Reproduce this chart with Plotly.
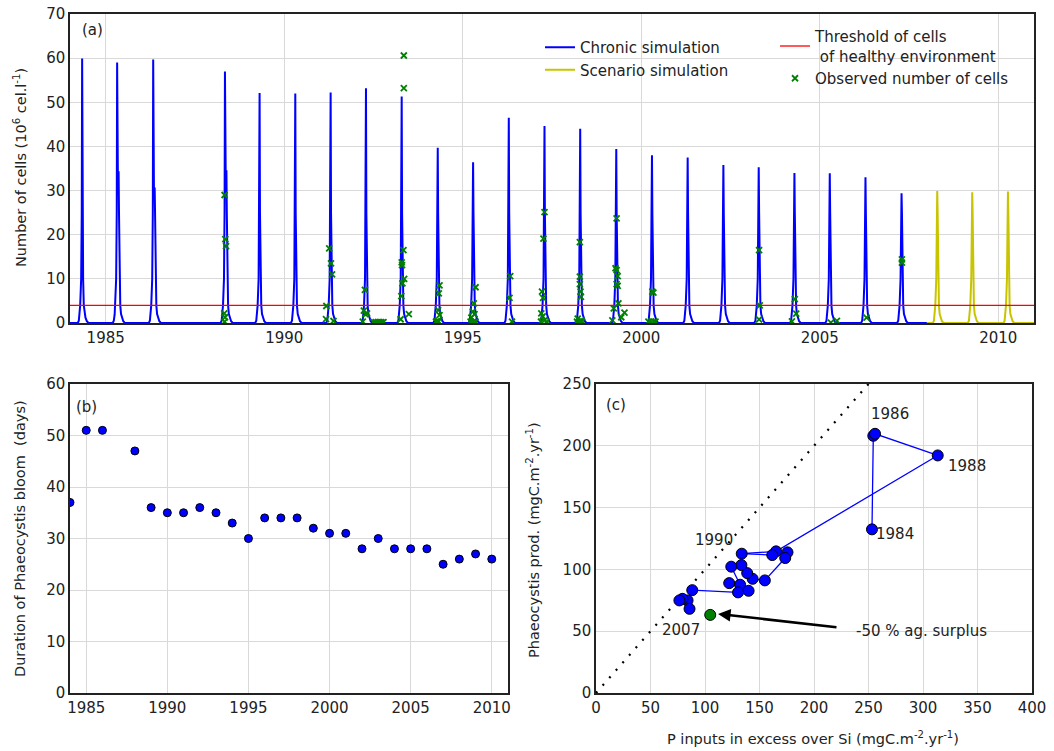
import plotly.graph_objects as go

# ---------------- (a) simulated Phaeocystis blooms ----------------
chronic_peak_year = [1984.34, 1985.32, 1986.33, 1988.34, 1989.31, 1990.31, 1991.30, 1992.29,
                     1993.29, 1994.30, 1995.29, 1996.29, 1997.29, 1998.29, 1999.30, 2000.30,
                     2001.30, 2002.30, 2003.29, 2004.29, 2005.28, 2006.28, 2007.29]
chronic_peak_cells = [59.9, 59.0, 59.7, 57.0, 52.1, 52.0, 52.2, 53.2, 51.3, 39.7, 36.4, 46.5,
                      44.6, 44.0, 39.4, 38.0, 37.5, 35.8, 35.3, 34.0, 33.9, 33.0, 29.4]
chronic_dip_cells = [0, 32.3, 29.0, 32.5] + [0] * 19
chronic_second_cells = [0, 34.4, 30.7, 34.6] + [0] * 19
scenario_peak_year = [2008.29, 2009.27, 2010.27]
scenario_peak_cells = [29.9, 29.6, 29.8]

# bloom flanks read from the spikes (days from peak, cells)
rise_days = [-45, -34, -25, -20, -10, -4]
rise_cells = [0, 0.5, 2.0, 4.0, 10, 25]
decay_days = [4, 10, 17, 25, 34, 48, 65]
decay_cells = [25, 10, 4.0, 2.0, 1.2, 0.4, 0]

threshold_cells = 4

obs_year = [1988.33, 1988.35, 1988.37, 1988.32, 1988.34, 1988.33,
            1991.26, 1991.31, 1991.34, 1991.18, 1991.17, 1991.38,
            1992.26, 1992.23, 1992.32, 1992.27, 1992.20, 1992.50, 1992.56, 1992.62, 1992.67, 1992.72, 1992.78,
            1993.35, 1993.35, 1993.34, 1993.29, 1993.30, 1993.36, 1993.31, 1993.28, 1993.49, 1993.26,
            1994.35, 1994.33, 1994.31, 1994.35, 1994.25, 1994.28, 1994.32, 1994.30,
            1995.36, 1995.31, 1995.28, 1995.33, 1995.24, 1995.22, 1995.30, 1995.36,
            1996.33, 1996.31, 1996.38,
            1997.29, 1997.26, 1997.22, 1997.25, 1997.20, 1997.24, 1997.29, 1997.19, 1997.35,
            1998.28, 1998.28, 1998.28, 1998.30, 1998.31, 1998.22, 1998.32, 1998.20, 1998.26, 1998.34,
            1999.31, 1999.28, 1999.31, 1999.34, 1999.31, 1999.34, 1999.36, 1999.23, 1999.53, 1999.44, 1999.19,
            2000.31, 2000.34, 2000.20, 2000.28, 2000.36, 2000.40,
            2003.30, 2003.32, 2003.30,
            2004.30, 2004.34, 2004.22,
            2005.31, 2005.48,
            2006.31,
            2007.30, 2007.30]
obs_cells = [29.0, 19.0, 17.4, 2.2, 1.3, 0.3,
             16.9, 13.5, 11.0, 3.85, 0.9, 0.45,
             7.5, 2.8, 2.2, 2.0, 0.3, 0.2, 0.2, 0.2, 0.2, 0.2, 0.2,
             60.6, 53.2, 16.5, 13.75, 13.1, 10.0, 9.0, 6.1, 2.0, 0.85,
             8.5, 6.7, 2.9, 1.8, 0.3, 0.3, 0.3, 0.5,
             8.1, 4.45, 2.6, 2.0, 1.2, 0.3, 0.3, 0.3,
             10.6, 5.7, 0.3,
             25.1, 19.1, 7.1, 5.7, 2.2, 1.5, 0.6, 0.3, 0.3,
             18.3, 10.5, 8.8, 7.1, 5.9, 1.0, 0.6, 0.3, 0.3, 0.3,
             23.7, 12.4, 12.0, 10.6, 8.8, 8.4, 4.45, 3.3, 2.35, 1.3, 0.6,
             7.1, 6.9, 0.3, 0.3, 0.3, 0.3,
             16.5, 4.0, 0.8,
             5.4, 2.1, 0.35,
             0.1, 0.5,
             1.2,
             14.4, 13.7]

# ---------------- (b) bloom duration ----------------
dur_year = [1984, 1985, 1986, 1988, 1989, 1990, 1991, 1992, 1993, 1994, 1995, 1996, 1997,
            1998, 1999, 2000, 2001, 2002, 2003, 2004, 2005, 2006, 2007, 2008, 2009, 2010]
dur_days = [37, 51, 51, 47, 36, 35, 35, 36, 35, 33, 30, 34, 34,
            34, 32, 31, 31, 28, 30, 28, 28, 28, 25, 26, 27, 26]

# ---------------- (c) production vs P excess ----------------
c_year = [1984, 1985, 1986, 1988, 1989, 1990, 1991, 1992, 1993, 1994, 1995, 1996,
          1997, 1998, 1999, 2000, 2001, 2002, 2003, 2004, 2005, 2006, 2007]
p_excess = [253.2, 254.4, 256.0, 313.5, 165.2, 133.7, 161.7, 175.7, 173.6, 154.9, 143.7, 138.7,
            133.4, 124.1, 132.2, 122.2, 140.0, 130.3, 88.3, 84.0, 79.3, 85.8, 76.5]
phaeo_prod = [132.4, 208.1, 209.7, 192.2, 114.6, 112.7, 111.6, 113.8, 109.2, 91.1, 92.4, 97.0,
              103.5, 102.2, 87.6, 88.9, 82.7, 81.4, 83.2, 74.9, 76.2, 68.1, 74.9]
scen_p_excess = [104.8]
scen_prod = [63.2]
one_to_one = [0, 260]
c_labels = ["1986", "1988", "1984", "1990", "2007"]
c_label_x = [270, 340, 274, 108, 78]
c_label_y = [226, 184, 129, 124, 51]


def bloom_series(start, end, years, peaks, dips, seconds):
    xs, ys = [start], [0]
    for t0, pk, dp, sc in zip(years, peaks, dips, seconds):
        for d, c in zip(rise_days, rise_cells):
            xs.append(t0 + d / 365.0); ys.append(c)
        xs.append(t0); ys.append(pk)
        shift = 0
        if sc:
            xs += [t0 + 8 / 365.0, t0 + 15 / 365.0]; ys += [dp, sc]
            shift = 15
        for d, c in zip(decay_days, decay_cells):
            xs.append(t0 + (d + shift) / 365.0); ys.append(c)
    xs.append(end); ys.append(0)
    return xs, ys


cx, cy = bloom_series(1984.0, 2008.0, chronic_peak_year, chronic_peak_cells,
                      chronic_dip_cells, chronic_second_cells)
n = len(scenario_peak_year)
sx, sy = bloom_series(2008.0, 2011.0, scenario_peak_year, scenario_peak_cells, [0] * n, [0] * n)

FONT = "DejaVu Sans, Liberation Sans, Arial, sans-serif"
TXT = "#222222"
fig = go.Figure()

fig.add_trace(go.Scatter(x=cx, y=cy, mode="lines", name="Chronic simulation",
                         line=dict(color="#0000ff", width=2), xaxis="x", yaxis="y", legend="legend"))
fig.add_trace(go.Scatter(x=sx, y=sy, mode="lines", name="Scenario simulation",
                         line=dict(color="#c8c400", width=2), xaxis="x", yaxis="y", legend="legend"))
fig.add_trace(go.Scatter(x=[1984, 2011], y=[threshold_cells, threshold_cells], mode="lines",
                         name="Threshold of cells<br> of healthy environment",
                         line=dict(color="#ff0000", width=1.3), xaxis="x", yaxis="y", legend="legend2"))
fig.add_trace(go.Scatter(x=obs_year, y=obs_cells, mode="markers", name="Observed number of cells",
                         marker=dict(symbol="x-thin", size=6, line=dict(color="#008000", width=1.8),
                                     color="#008000"),
                         xaxis="x", yaxis="y", legend="legend2"))

fig.add_trace(go.Scatter(x=dur_year, y=dur_days, mode="markers", showlegend=False,
                         marker=dict(color="#0000ff", size=8, line=dict(color="black", width=1)),
                         xaxis="x2", yaxis="y2"))

fig.add_trace(go.Scatter(x=one_to_one, y=one_to_one, mode="lines", showlegend=False,
                         line=dict(color="black", width=2.2, dash="2px,8px"),
                         xaxis="x3", yaxis="y3"))
fig.add_trace(go.Scatter(x=p_excess, y=phaeo_prod, mode="lines+markers", showlegend=False,
                         line=dict(color="#0000ff", width=1.3),
                         marker=dict(color="#0000ff", size=11, line=dict(color="black", width=1)),
                         xaxis="x3", yaxis="y3"))
fig.add_trace(go.Scatter(x=scen_p_excess, y=scen_prod, mode="markers", showlegend=False,
                         marker=dict(color="#008000", size=11, line=dict(color="black", width=1)),
                         xaxis="x3", yaxis="y3"))

W, H = 1054, 751


def px(x):
    return x / W


def py(y):
    return 1 - y / H


axis_common = dict(showline=True, mirror=True, linecolor="#222222", linewidth=1.5,
                   showgrid=True, gridcolor="#d9d9d9", gridwidth=1, zeroline=False,
                   ticks="", tickfont=dict(size=15, color=TXT, family=FONT))

fig.update_layout(
    width=W, height=H, margin=dict(l=0, r=0, t=0, b=0, autoexpand=False),
    paper_bgcolor="white", plot_bgcolor="white",
    font=dict(family=FONT, color=TXT, size=15),
    xaxis=dict(domain=[px(70), px(1034)], range=[1984, 2011],
               tickvals=[1985, 1990, 1995, 2000, 2005, 2010], anchor="y", **axis_common),
    yaxis=dict(domain=[py(323), py(14)], range=[0, 70], dtick=10, anchor="x", **axis_common),
    xaxis2=dict(domain=[px(70), px(508)], range=[1984, 2011],
                tickvals=[1985, 1990, 1995, 2000, 2005, 2010], anchor="y2", **axis_common),
    yaxis2=dict(domain=[py(693), py(384)], range=[0, 60], dtick=10, anchor="x2", **axis_common),
    xaxis3=dict(domain=[px(596), px(1032)], range=[0, 400], dtick=50, anchor="y3", **axis_common),
    yaxis3=dict(domain=[py(693), py(384)], range=[0, 250], dtick=50, anchor="x3", **axis_common),
    legend=dict(x=px(540), y=py(31), xanchor="left", yanchor="top", bgcolor="rgba(0,0,0,0)",
                font=dict(size=15, color=TXT, family=FONT), itemwidth=30, tracegroupgap=0),
    legend2=dict(x=px(775), y=py(20), xanchor="left", yanchor="top", bgcolor="rgba(0,0,0,0)",
                 font=dict(size=15, color=TXT, family=FONT), itemwidth=30, tracegroupgap=0),
)

ann = []


def paper_text(text, x, y, angle=0, size=15):
    ann.append(dict(text=text, x=px(x), y=py(y), xref="paper", yref="paper", textangle=angle,
                    xanchor="center", yanchor="middle", showarrow=False, font=dict(size=size)))


paper_text("Number of cells (10<sup>6</sup> cel.l<sup>-1</sup>)", 20, 168, -90, 14.5)
paper_text("Duration of Phaeocystis bloom  (days)", 20, 539, -90, 14.5)
paper_text("Phaeocystis prod. (mgC.m<sup>-2</sup>.yr<sup>-1</sup>)", 533, 540, -90, 14.5)
paper_text("P inputs in excess over Si (mgC.m<sup>-2</sup>.yr<sup>-1</sup>)", 813, 738, 0, 14.5)
paper_text("(a)", 92, 30)
paper_text("(b)", 86, 407)
paper_text("(c)", 616, 405)
for t, lx, ly in zip(c_labels, c_label_x, c_label_y):
    ann.append(dict(text=t, x=lx, y=ly, xref="x3", yref="y3", showarrow=False, font=dict(size=15)))
ann.append(dict(text="", x=112, y=64, xref="x3", yref="y3", ax=222, ay=53, axref="x3", ayref="y3",
                showarrow=True, arrowhead=2, arrowsize=1, arrowwidth=2.5, arrowcolor="black"))
ann.append(dict(text="-50 % ag. surplus", x=237, y=50, xref="x3", yref="y3", xanchor="left",
                showarrow=False, font=dict(size=15)))
fig.update_layout(annotations=ann)

fig.write_html("out.html")
